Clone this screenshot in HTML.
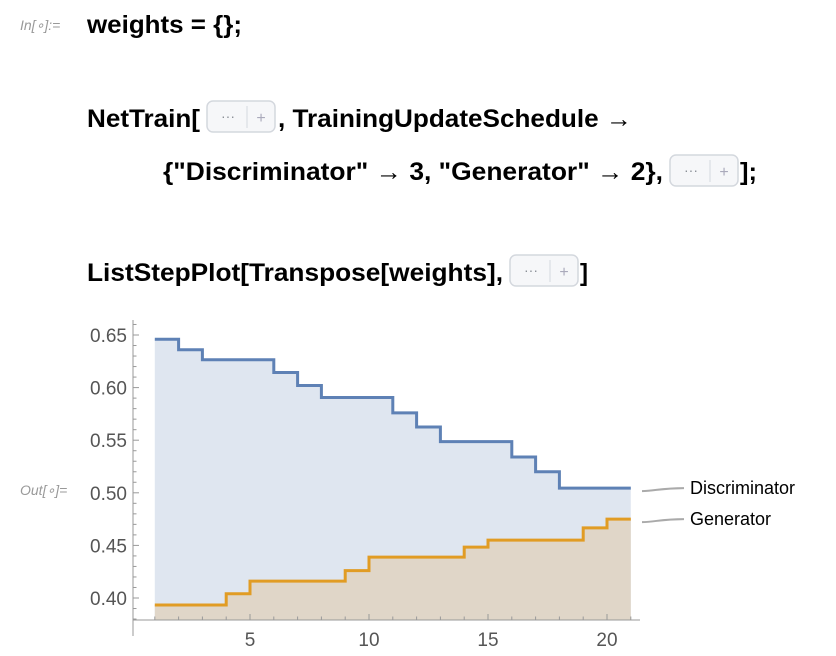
<!DOCTYPE html>
<html><head><meta charset="utf-8"><style>
body{margin:0;background:#fff;}
svg{display:block;font-family:"Liberation Sans",sans-serif;}
.code{font-weight:bold;font-size:25px;fill:#000;}
.lab{font-family:"Liberation Sans",sans-serif;font-style:italic;font-size:14px;fill:#999;}
.tick{font-size:19px;fill:#555;}
</style></head><body>
<svg id="s" width="836" height="656" viewBox="0 0 836 656">
<text class="lab" x="20" y="30">In[∘]:=</text>
<text class="code" x="87" y="33" textLength="155" lengthAdjust="spacingAndGlyphs">weights = {};</text>
<text class="code" x="87" y="127" textLength="113" lengthAdjust="spacingAndGlyphs">NetTrain[</text>
<g><rect x="207" y="101" width="68" height="31" rx="6" fill="#f6f7f9" stroke="#d4d8de" stroke-width="1.5"/><text x="228" y="121" font-size="14" fill="#8a8f96" text-anchor="middle">···</text><line x1="247" y1="106" x2="247" y2="128" stroke="#d4d8de"/><text x="261" y="123" font-size="16" fill="#aab" text-anchor="middle">+</text></g>
<text class="code" x="278" y="127" textLength="354" lengthAdjust="spacingAndGlyphs">, TrainingUpdateSchedule →</text>
<text class="code" x="163" y="180" textLength="500" lengthAdjust="spacingAndGlyphs">{"Discriminator" → 3, "Generator" → 2},</text>
<g><rect x="670" y="155" width="68" height="31" rx="6" fill="#f6f7f9" stroke="#d4d8de" stroke-width="1.5"/><text x="691" y="175" font-size="14" fill="#8a8f96" text-anchor="middle">···</text><line x1="710" y1="160" x2="710" y2="182" stroke="#d4d8de"/><text x="724" y="177" font-size="16" fill="#aab" text-anchor="middle">+</text></g>
<text class="code" x="740" y="180" textLength="17" lengthAdjust="spacingAndGlyphs">];</text>
<text class="code" x="87" y="281" textLength="416" lengthAdjust="spacingAndGlyphs">ListStepPlot[Transpose[weights],</text>
<g><rect x="510" y="255" width="68" height="31" rx="6" fill="#f6f7f9" stroke="#d4d8de" stroke-width="1.5"/><text x="531" y="275" font-size="14" fill="#8a8f96" text-anchor="middle">···</text><line x1="550" y1="260" x2="550" y2="282" stroke="#d4d8de"/><text x="564" y="277" font-size="16" fill="#aab" text-anchor="middle">+</text></g>
<text class="code" x="580" y="281" textLength="8" lengthAdjust="spacingAndGlyphs">]</text>
<text class="lab" x="20" y="495">Out[∘]=</text>
<g id="plot"></g>
</svg>
<script>
const xs = [1,2,3,4,5,6,7,8,9,10,11,12,13,14,15,16,17,18,19,20,21];
const discriminator = [0.646,0.636,0.6265,0.6265,0.6265,0.6144,0.602,0.5906,0.5906,0.5906,0.576,0.5626,0.5487,0.5487,0.5487,0.534,0.520,0.5045,0.5045,0.5045];
const generator = [0.3933,0.3933,0.3933,0.404,0.416,0.416,0.416,0.416,0.426,0.4388,0.4388,0.4388,0.4388,0.4484,0.455,0.455,0.455,0.455,0.4667,0.475];
const xTicks = [5,10,15,20];
const yTicks = [0.40,0.45,0.50,0.55,0.60,0.65];
const seriesNames = ["Discriminator","Generator"];

const NS="http://www.w3.org/2000/svg";
const g=document.getElementById('plot');
const X=v=>250+(v-5)*(607-250)/15;
const Y=v=>598-(v-0.40)*(598-335)/0.25;
const axisY=620, axisX=133;
function mk(t,a){const e=document.createElementNS(NS,t);for(const k in a)e.setAttribute(k,a[k]);g.appendChild(e);return e;}
function stepPath(vals){let d='';vals.forEach((v,i)=>{d+=(i?'L':'M')+X(xs[i])+' '+Y(v)+' L'+X(xs[i+1])+' '+Y(v)+' ';});return d;}
function fillPath(vals){return stepPath(vals)+'L'+X(xs[vals.length])+' '+axisY+' L'+X(xs[0])+' '+axisY+' Z';}
let e;
e=mk('path',{d:fillPath(discriminator),fill:'#dfe6f0'});


e=mk('path',{d:fillPath(generator),fill:'#e0d6c8'});


e=mk('line',{x1:axisX,y1:axisY,x2:640,y2:axisY,stroke:'#999','stroke-width':1});


e=mk('line',{x1:axisX,y1:320,x2:axisX,y2:636,stroke:'#999','stroke-width':1});


for(let i=1;i<=21;i++){const big=i%5===0;mk('line',{x1:X(i),y1:axisY,x2:X(i),y2:axisY-(big?6:3.5),stroke:'#999'});}
for(let v=0.38;v<=0.665;v+=0.01){const big=Math.abs(v*20-Math.round(v*20))<1e-6;mk('line',{x1:axisX,y1:Y(v),x2:axisX+(big?6:3.5),y2:Y(v),stroke:'#999'});}
xTicks.forEach(t=>{e=mk('text',{x:X(t),y:646,'text-anchor':'middle',class:'tick'});e.textContent=t;

});
yTicks.forEach(t=>{e=mk('text',{x:127,y:Y(t)+7,'text-anchor':'end',class:'tick'});e.textContent=t.toFixed(2);

});
e=mk('path',{d:stepPath(discriminator),fill:'none',stroke:'#5e81b5','stroke-width':3});


e=mk('path',{d:stepPath(generator),fill:'none',stroke:'#e19c24','stroke-width':3});


[discriminator,generator].forEach((vals,k)=>{
  const yv=Y(vals[vals.length-1]);
  e=mk('path',{d:`M642 ${yv+3} C655 ${yv+3},660 ${yv},684 ${yv}`,fill:'none',stroke:'#aaa','stroke-width':2});
  
  
  e=mk('text',{x:690,y:yv+6,'font-size':18,fill:'#000'});e.textContent=seriesNames[k];
  
  
});
</script>
</body></html>
